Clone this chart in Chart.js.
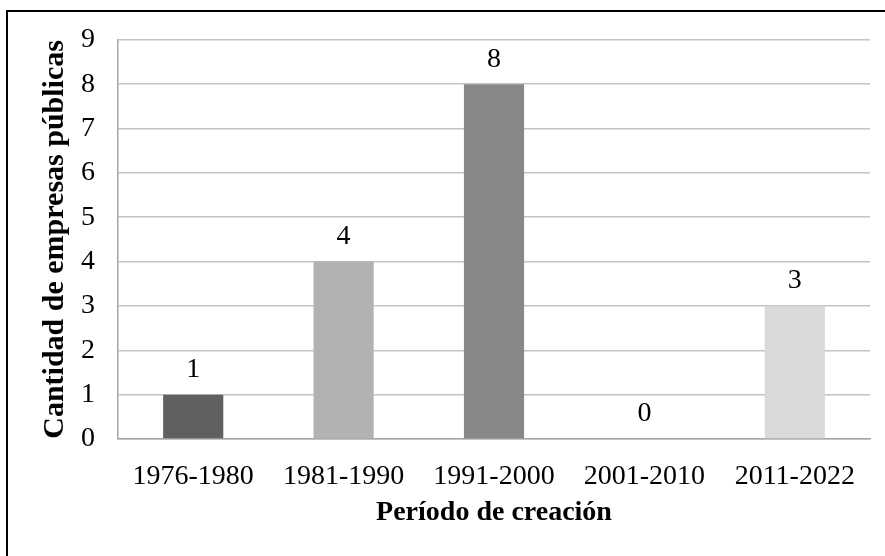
<!DOCTYPE html>
<html>
<head>
<meta charset="utf-8">
<script src="https://cdn.jsdelivr.net/npm/chart.js@4/dist/chart.umd.min.js"></script>
<style>
  html, body { margin: 0; padding: 0; background: #ffffff; overflow: hidden; }
  #wrap { position: relative; width: 885px; height: 556px; }
  #frame { position: absolute; left: 6px; top: 10px; width: 1000px; height: 700px;
           border-left: 2px solid #000; border-top: 2px solid #000; pointer-events: none; }
</style>
</head>
<body>
<div id="wrap">
  <canvas id="c" width="885" height="556"></canvas>
  <div id="frame"></div>
</div>
<script>
const categories = ["1976-1980", "1981-1990", "1991-2000", "2001-2010", "2011-2022"];
const values = [1, 4, 8, 0, 3];
const barColors = ["#606060", "#b2b2b2", "#888888", "#a0a0a0", "#d9d9d9"];
const yTicks = [0, 1, 2, 3, 4, 5, 6, 7, 8, 9];
const xTitle = "Período de creación";
const yTitle = "Cantidad de empresas públicas";

const FONT = '"Liberation Serif", "Times New Roman", serif';

const valueLabels = {
  id: 'valueLabels',
  afterDatasetsDraw(chart) {
    const ctx = chart.ctx;
    const meta = chart.getDatasetMeta(0);
    ctx.save();
    ctx.font = '28px ' + FONT;
    ctx.fillStyle = '#000';
    ctx.textAlign = 'center';
    ctx.textBaseline = 'middle';
    meta.data.forEach((bar, i) => {
      ctx.fillText(String(values[i]), bar.x, bar.y - 25);
    });
    ctx.restore();
  }
};

new Chart(document.getElementById('c'), {
  type: 'bar',
  data: {
    labels: categories,
    datasets: [{
      data: values,
      backgroundColor: barColors,
      borderWidth: 0,
      categoryPercentage: 1,
      barPercentage: 0.4
    }]
  },
  options: {
    responsive: false,
    animation: false,
    devicePixelRatio: 1,
    layout: { padding: { left: 0, top: 39, right: 15, bottom: 0 } },
    plugins: { legend: { display: false }, tooltip: { enabled: false } },
    scales: {
      x: {
        grid: { display: false, drawTicks: false },
        border: { display: true, color: '#a6a6a6', width: 1.5 },
        ticks: { color: '#000', font: { family: FONT, size: 28 }, padding: 21, maxRotation: 0 },
        title: { display: true, text: xTitle, color: '#000',
                 font: { family: FONT, size: 28, weight: 'bold' }, padding: { top: 0, bottom: 26 } },
        afterFit(scale) { scale.height = 117; }
      },
      y: {
        min: 0, max: 9,
        afterBuildTicks(scale) { scale.ticks = yTicks.map(v => ({ value: v })); },
        grid: { display: true, color: '#c4c4c4', lineWidth: 1.5, drawTicks: false },
        border: { display: true, color: '#a6a6a6', width: 1.5 },
        ticks: { color: '#000', font: { family: FONT, size: 28 }, padding: 23 },
        title: { display: true, text: yTitle, color: '#000',
                 font: { family: FONT, size: 30, weight: 'bold' }, padding: { top: 37, bottom: 0 } },
        afterFit(scale) { scale.width = 118; }
      }
    }
  },
  plugins: [valueLabels]
});
</script>
</body>
</html>
